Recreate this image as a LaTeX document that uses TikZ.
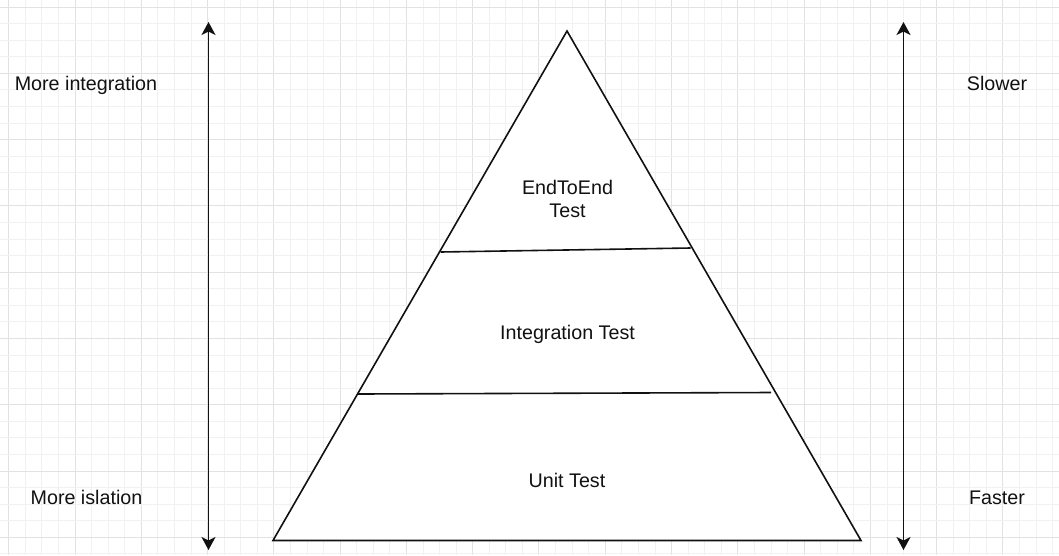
\documentclass[tikz,border=0pt]{standalone}
\usepackage{fontspec}
\setmainfont{Liberation Sans}
\usetikzlibrary{arrows.meta}
\definecolor{gridminor}{HTML}{F1F1F1}
\definecolor{gridmajor}{HTML}{E2E2E2}
\definecolor{ink}{HTML}{111111}
\tikzset{
  lbl/.style={anchor=base, inner sep=0pt, text=ink, font=\fontsize{19.7}{23}\selectfont},
  edge/.style={draw=ink, line width=1.6pt, line join=miter},
  axis/.style={draw=ink, line width=1.6pt, {Stealth[length=13pt,width=14pt,inset=3.5pt]}-{Stealth[length=13pt,width=14pt,inset=3.5pt]}}
}
\begin{document}
\begin{tikzpicture}[x=1pt,y=-1pt]
\useasboundingbox (0,0) rectangle (1059,555);
\fill[white] (0,0) rectangle (1059,555);
% grid
\foreach \k in {0,...,63}{
  \pgfmathsetmacro{\gx}{8.7+16.57*\k}
  \pgfmathtruncatemacro{\m}{mod(\k,4)}
  \ifnum\m=0\relax
    \draw[gridmajor, line width=0.9pt] (\gx,0) -- (\gx,555);
  \else
    \draw[gridminor, line width=0.8pt] (\gx,0) -- (\gx,555);
  \fi
}
\foreach \k in {0,...,33}{
  \pgfmathsetmacro{\gy}{7+16.57*\k}
  \pgfmathtruncatemacro{\m}{mod(\k,4)}
  \ifnum\m=0\relax
    \draw[gridmajor, line width=0.9pt] (0,\gy) -- (1059,\gy);
  \else
    \draw[gridminor, line width=0.8pt] (0,\gy) -- (1059,\gy);
  \fi
}
% pyramid
\coordinate (apex) at (567,31);
\coordinate (bl) at (273,540.5);
\coordinate (br) at (861,540.5);
\fill[white] (apex) -- (bl) -- (br) -- cycle;
\draw[edge] (apex) -- (bl) -- (br) -- cycle;
\coordinate (l1a) at (440.5,252);
\coordinate (l1b) at (690.5,248);
\coordinate (l2a) at (358,394);
\coordinate (l2b) at (771,392.5);
\draw[edge] (l1a) -- (l1b);
\draw[edge] (l2a) -- (l2b);
% axes
\coordinate (lt) at (208.5,22);
\coordinate (lb) at (208.5,550);
\coordinate (rt) at (903.5,22);
\coordinate (rb) at (903.5,550);
\draw[axis] (lb) -- (lt);
\draw[axis] (rb) -- (rt);
% labels
\node[lbl] (moreint) at (86,90.5) {More integration};
\node[lbl] (moreiso) at (86.5,504) {More islation};
\node[lbl] (slower) at (997,90) {Slower};
\node[lbl] (faster) at (997,504) {Faster};
\node[lbl] (e2e) at (567.5,194.3) {EndToEnd};
\node[lbl] (e2et) at (567.5,217.3) {Test};
\node[lbl] (integ) at (567.5,339.3) {Integration Test};
\node[lbl] (unit) at (567,487.7) {Unit Test};
\end{tikzpicture}
\end{document}
